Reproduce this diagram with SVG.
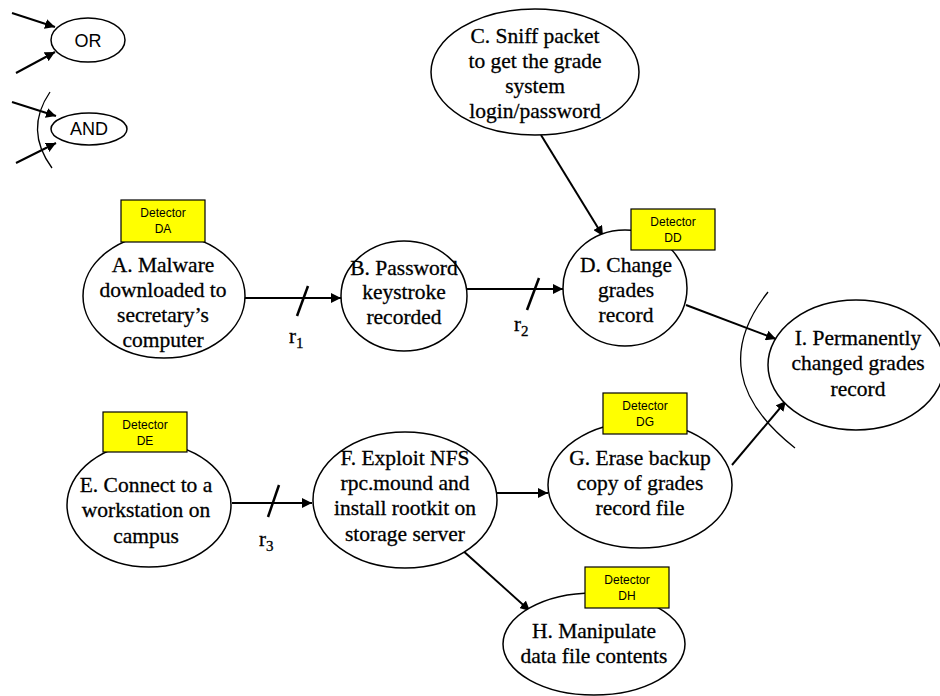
<svg xmlns="http://www.w3.org/2000/svg" width="940" height="696" viewBox="0 0 940 696">
  <defs>
    <marker id="arrow" viewBox="0 0 10 10" refX="10" refY="5" markerWidth="10" markerHeight="10" markerUnits="userSpaceOnUse" orient="auto">
      <path d="M0,0 L10,5 L0,10 z" fill="#000"/>
    </marker>
    <style>
      .node { fill: #fff; stroke: #000; stroke-width: 1.5; }
      .lbl { font-family: "Liberation Serif", "Times New Roman", serif; font-size: 21.5px; fill: #000; stroke: #000; stroke-width: 0.3; text-anchor: middle; }
      .det rect { fill: #ffff00; stroke: #000; stroke-width: 1.2; }
      .det text { font-family: "Liberation Sans", Arial, sans-serif; font-size: 12px; fill: #000; text-anchor: middle; }
      .legend { font-family: "Liberation Sans", Arial, sans-serif; font-size: 18px; fill: #000; text-anchor: middle; }
      .edge { stroke: #000; stroke-width: 2; fill: none; marker-end: url(#arrow); }
      .tick { stroke: #000; stroke-width: 2.5; fill: none; }
      .arc { stroke: #000; stroke-width: 1.3; fill: none; }
      .rate { font-family: "Liberation Serif", "Times New Roman", serif; font-size: 21px; fill: #000; stroke: #000; stroke-width: 0.3; }
    </style>
  </defs>

  <!-- legend: OR / AND -->
  <g id="legend-or">
    <ellipse class="node" cx="88" cy="40" rx="37" ry="22"/>
    <text class="legend" x="88" y="47">OR</text>
    <line class="edge" x1="12" y1="13" x2="55" y2="27"/>
    <line class="edge" x1="16" y1="73" x2="55" y2="52"/>
  </g>
  <g id="legend-and">
    <ellipse class="node" cx="89" cy="129" rx="38" ry="16"/>
    <text class="legend" x="89" y="135">AND</text>
    <line class="edge" x1="12" y1="102" x2="56" y2="116"/>
    <line class="edge" x1="16" y1="163" x2="56" y2="143"/>
    <path class="arc" d="M50,92 Q24,130 52,168"/>
  </g>

  <!-- connectors -->
  <g id="connectors">
    <line class="edge" x1="245" y1="298" x2="341" y2="298"/>
    <line class="tick" x1="297" y1="316" x2="308" y2="286"/>
    <text class="rate" x="289" y="343">r<tspan font-size="15" dy="5">1</tspan></text>

    <line class="edge" x1="466" y1="289" x2="563" y2="289"/>
    <line class="tick" x1="527" y1="310" x2="539" y2="278"/>
    <text class="rate" x="514" y="331">r<tspan font-size="15" dy="5">2</tspan></text>

    <line class="edge" x1="541" y1="135" x2="603" y2="236"/>
    <line class="edge" x1="686" y1="305" x2="776" y2="339"/>
    <line class="edge" x1="732" y1="465" x2="786" y2="401"/>
    <path class="arc" d="M768,292 Q702,375 795,448"/>

    <line class="edge" x1="232" y1="503" x2="312" y2="503"/>
    <line class="tick" x1="268" y1="517" x2="279" y2="485"/>
    <text class="rate" x="259" y="546">r<tspan font-size="15" dy="5">3</tspan></text>

    <line class="edge" x1="495" y1="493" x2="548" y2="493"/>
    <line class="edge" x1="461" y1="549" x2="530" y2="611"/>
  </g>

  <!-- nodes -->
  <g id="node-A">
    <ellipse class="node" cx="164" cy="296" rx="81" ry="62"/>
    <text class="lbl" x="163" y="272">A. Malware</text>
    <text class="lbl" x="163" y="297">downloaded to</text>
    <text class="lbl" x="163" y="322">secretary’s</text>
    <text class="lbl" x="163" y="347">computer</text>
    <g class="det"><rect x="121" y="200" width="84" height="42"/><text x="163" y="217">Detector</text><text x="163" y="233">DA</text></g>
  </g>

  <g id="node-B">
    <ellipse class="node" cx="404" cy="296" rx="63" ry="55"/>
    <text class="lbl" x="404" y="275">B. Password</text>
    <text class="lbl" x="404" y="299">keystroke</text>
    <text class="lbl" x="404" y="324">recorded</text>
  </g>

  <g id="node-C">
    <ellipse class="node" cx="535" cy="72" rx="104" ry="63"/>
    <text class="lbl" x="535" y="43">C. Sniff packet</text>
    <text class="lbl" x="535" y="68">to get the grade</text>
    <text class="lbl" x="535" y="93">system</text>
    <text class="lbl" x="535" y="118">login/password</text>
  </g>

  <g id="node-D">
    <ellipse class="node" cx="625" cy="288" rx="62" ry="58"/>
    <text class="lbl" x="626" y="272">D. Change</text>
    <text class="lbl" x="626" y="297">grades</text>
    <text class="lbl" x="626" y="322">record</text>
    <g class="det"><rect x="631" y="209" width="84" height="41"/><text x="673" y="226">Detector</text><text x="673" y="242">DD</text></g>
  </g>

  <g id="node-I">
    <ellipse class="node" cx="856" cy="365" rx="88" ry="65"/>
    <text class="lbl" x="858" y="345">I. Permanently</text>
    <text class="lbl" x="858" y="370">changed grades</text>
    <text class="lbl" x="858" y="396">record</text>
  </g>

  <g id="node-E">
    <ellipse class="node" cx="149" cy="505" rx="82" ry="62"/>
    <text class="lbl" x="146" y="492">E. Connect to a</text>
    <text class="lbl" x="146" y="517">workstation on</text>
    <text class="lbl" x="146" y="543">campus</text>
    <g class="det"><rect x="103" y="412" width="84" height="40"/><text x="145" y="429">Detector</text><text x="145" y="445">DE</text></g>
  </g>

  <g id="node-F">
    <ellipse class="node" cx="405" cy="500" rx="92" ry="68"/>
    <text class="lbl" x="405" y="465">F. Exploit NFS</text>
    <text class="lbl" x="405" y="490">rpc.mound and</text>
    <text class="lbl" x="405" y="515">install rootkit on</text>
    <text class="lbl" x="405" y="541">storage server</text>
  </g>

  <g id="node-G">
    <ellipse class="node" cx="640" cy="485" rx="92" ry="63"/>
    <text class="lbl" x="640" y="465">G. Erase backup</text>
    <text class="lbl" x="640" y="490">copy of grades</text>
    <text class="lbl" x="640" y="515">record file</text>
    <g class="det"><rect x="603" y="393" width="84" height="41"/><text x="645" y="410">Detector</text><text x="645" y="426">DG</text></g>
  </g>

  <g id="node-H">
    <ellipse class="node" cx="594" cy="644" rx="91" ry="51"/>
    <text class="lbl" x="594" y="638">H. Manipulate</text>
    <text class="lbl" x="594" y="663">data file contents</text>
    <g class="det"><rect x="585" y="567" width="84" height="41"/><text x="627" y="584">Detector</text><text x="627" y="600">DH</text></g>
  </g>
</svg>
